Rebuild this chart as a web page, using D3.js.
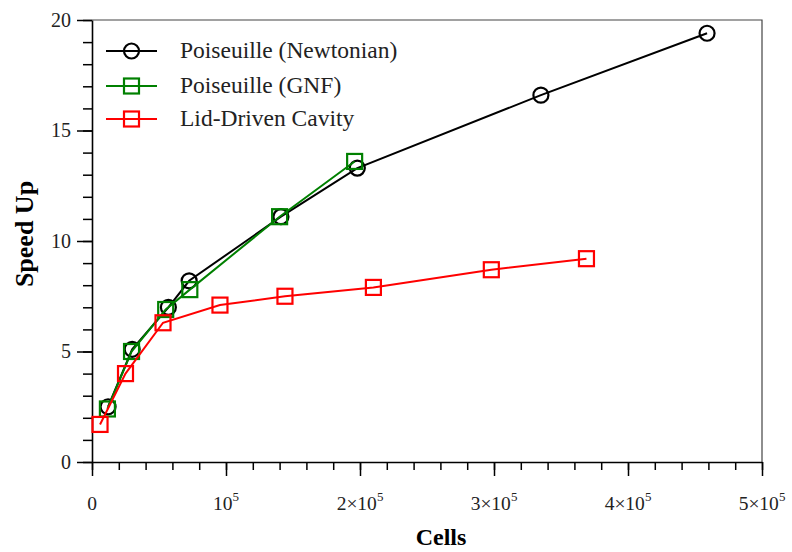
<!DOCTYPE html>
<html>
<head>
<meta charset="utf-8">
<script src="https://cdn.jsdelivr.net/npm/d3@7"></script>
<style>
  body { margin: 0; background: #fff; }
  svg { display: block; }
  text { font-family: "Liberation Serif", "DejaVu Serif", serif; }
</style>
</head>
<body>
<svg id="chart" width="792" height="552"></svg>
<script>
// ---- data ----
const newtonianCells = [12000, 30000, 57000, 72500, 141000, 198000, 335000, 459000];
const newtonianSpeed = [2.5, 5.1, 7.0, 8.2, 11.1, 13.3, 16.6, 19.4];
const gnfCells = [11500, 29500, 55000, 73000, 140000, 196000];
const gnfSpeed = [2.4, 5.0, 6.9, 7.8, 11.1, 13.6];
const lidCells = [6000, 25000, 53000, 95500, 144000, 210000, 298000, 369000];
const lidSpeed = [1.7, 4.0, 6.3, 7.1, 7.5, 7.9, 8.7, 9.2];
const seriesNames = ["Poiseuille (Newtonian)", "Poiseuille (GNF)", "Lid-Driven Cavity"];
const xTickValues = [0, 100000, 200000, 300000, 400000, 500000];
const xTickMantissa = ["0", "", "2\u00d7", "3\u00d7", "4\u00d7", "5\u00d7"];
const yTickValues = [0, 5, 10, 15, 20];

const svg = d3.select("#chart");
const W = 792, H = 552;
const m = { left: 92, right: 30, top: 20, bottom: 90 };
const x = d3.scaleLinear().domain([0, 500000]).range([m.left, W - m.right]);
const y = d3.scaleLinear().domain([0, 20]).range([H - m.bottom, m.top]);

// frame (top / right)
svg.append("path")
  .attr("d", `M${x(0)},${y(20)}H${x(500000)}V${y(0)}`)
  .attr("fill", "none").attr("stroke", "#444").attr("stroke-width", 1.2);

// x axis minor ticks
const xMinor = d3.range(0, 500001, 20000);
const gx = svg.append("g").attr("transform", `translate(0,${y(0)})`);
gx.append("g").call(d3.axisBottom(x).tickValues(xMinor).tickSize(8).tickFormat(""))
  .call(g => g.select(".domain").remove())
  .selectAll("line").attr("stroke", "#000").attr("stroke-width", 1.5);
const xAx = gx.append("g").call(d3.axisBottom(x).tickValues(xTickValues).tickSize(14).tickSizeOuter(0).tickFormat(""));
xAx.select(".domain").attr("stroke", "#000").attr("stroke-width", 1.6);
xAx.selectAll("line").attr("stroke", "#000").attr("stroke-width", 1.5);
// x tick labels with superscript
xTickValues.forEach((v, i) => {
  const t = gx.append("text")
    .attr("x", x(v)).attr("y", 48)
    .attr("text-anchor", "middle")
    .attr("font-size", 19.5).attr("fill", "#222");
  if (v === 0) { t.text("0"); return; }
  t.append("tspan").text(xTickMantissa[i] + "10");
  t.append("tspan").attr("font-size", 13).attr("dy", -9).text("5");
});

// y axis
const gy = svg.append("g").attr("transform", `translate(${x(0)},0)`);
gy.append("g").call(d3.axisLeft(y).tickValues(d3.range(0, 21, 1)).tickSize(9).tickFormat(""))
  .call(g => g.select(".domain").remove())
  .selectAll("line").attr("stroke", "#000").attr("stroke-width", 1.5);
const yAx = gy.append("g").call(d3.axisLeft(y).tickValues(yTickValues).tickSize(15).tickSizeOuter(0).tickPadding(6));
yAx.select(".domain").attr("stroke", "#000").attr("stroke-width", 1.6);
yAx.selectAll("line").attr("stroke", "#000").attr("stroke-width", 1.5);
yAx.selectAll("text").attr("font-size", 20).attr("fill", "#222")
  .attr("font-family", "Liberation Serif, serif");

// axis titles
svg.append("text").attr("x", 441).attr("y", 545)
  .attr("text-anchor", "middle").attr("font-size", 24).attr("font-weight", "bold").text("Cells");
svg.append("text").attr("transform", `translate(33,234) rotate(-90)`)
  .attr("text-anchor", "middle").attr("font-size", 26).attr("font-weight", "bold").text("Speed Up");

// series
const series = [
  { name: seriesNames[0], xs: newtonianCells, ys: newtonianSpeed, color: "#000000", marker: "circle" },
  { name: seriesNames[1], xs: gnfCells, ys: gnfSpeed, color: "#008000", marker: "square" },
  { name: seriesNames[2], xs: lidCells, ys: lidSpeed, color: "#ff0000", marker: "square" }
];
const line = d3.line().x(d => x(d[0])).y(d => y(d[1]));

function drawMarker(g, cx, cy, s) {
  if (s.marker === "circle") {
    g.append("circle").attr("cx", cx).attr("cy", cy).attr("r", 7.5)
      .attr("fill", "none").attr("stroke", s.color).attr("stroke-width", 2.2);
  } else {
    g.append("rect").attr("x", cx - 7.5).attr("y", cy - 7.5).attr("width", 15).attr("height", 15)
      .attr("fill", "none").attr("stroke", s.color).attr("stroke-width", 2.2);
  }
}

series.forEach(s => {
  const pts = s.xs.map((v, i) => [v, s.ys[i]]);
  const g = svg.append("g");
  g.append("path").datum(pts).attr("d", line)
    .attr("fill", "none").attr("stroke", s.color).attr("stroke-width", 2);
  pts.forEach(p => drawMarker(g, x(p[0]), y(p[1]), s));
});

// legend
const legY = [51, 86, 119];
series.forEach((s, i) => {
  const g = svg.append("g");
  g.append("line").attr("x1", 106).attr("x2", 157).attr("y1", legY[i]).attr("y2", legY[i])
    .attr("stroke", s.color).attr("stroke-width", 2);
  drawMarker(g, 131.5, legY[i], s);
  g.append("text").attr("x", 180).attr("y", legY[i] + 7)
    .attr("font-size", 23.5).attr("fill", "#222").text(s.name);
});
</script>
</body>
</html>
